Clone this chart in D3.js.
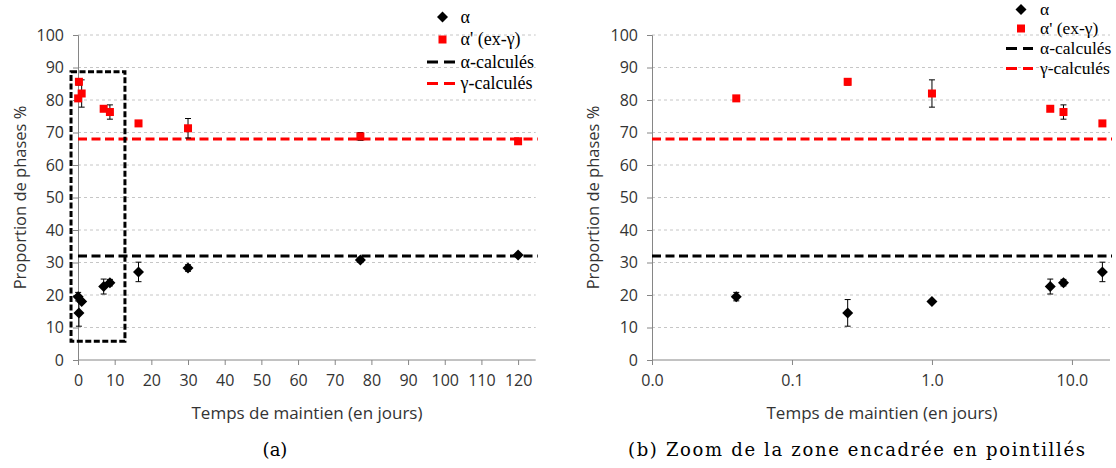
<!DOCTYPE html>
<html>
<head>
<meta charset="utf-8">
<script src="https://cdn.jsdelivr.net/npm/d3@7"></script>
<style>
  html, body { margin: 0; padding: 0; background: #fff; }
  svg { display: block; }
</style>
</head>
<body>
<svg id="chart" width="1116" height="468"></svg>
<script>
// ---- data ----
const times        = [0.04, 0.25, 1, 7, 8.7, 16.5, 30, 77, 120];
const alphaVals    = [19.5, 14.5, 18.0, 22.6, 23.8, 27.1, 28.3, 30.8, 32.3];
const alphaErr     = [1.3, 4.1, 0.5, 2.3, 1.0, 3.0, 1.0, 0.8, 0.5];
const alphaPVals   = [80.5, 85.6, 82.0, 77.3, 76.3, 72.8, 71.3, 68.8, 67.3];
const alphaPErr    = [0.5, 1.0, 4.2, 0.5, 2.2, 0.5, 3.0, 1.2, 0.3];
const alphaCalc    = 32;
const gammaCalc    = 68;
const yTicks       = [0,10,20,30,40,50,60,70,80,90,100];
const xTicksLin    = [0,10,20,30,40,50,60,70,80,90,100,110,120];
const xTicksLog    = [0.01, 0.1, 1, 10];
const xTickLogLbl  = ["0.0", "0.1", "1.0", "10.0"];
const zoomBox      = {x0: -1.9, x1: 12.8, y0: 5.8, y1: 88.7};
const legendLabels = ["α", "α' (ex-γ)", "α-calculés", "γ-calculés"];
const yTitle = "Proportion de phases %";
const xTitle = "Temps de maintien (en jours)";
const captions = ["(a)", "(b) Zoom de la zone encadrée en pointillés"];

const svg = d3.select("#chart");
svg.append("rect").attr("width",1116).attr("height",468).attr("fill","#fff");

const y = d3.scaleLinear().domain([0,100]).range([360,35]);
const RED = "#ff0000";
const AXIS = "#868686";
const TXT = "#333";
const sansFont = "'Open Sans', 'Liberation Sans', sans-serif";
const serifFont = "'Liberation Serif', 'DejaVu Serif', serif";
const capFont = "'DejaVu Serif', serif";

function panel(opt) {
  const g = svg.append("g");
  const x = opt.x;
  const [xl, xr] = x.range();
  // gridlines
  g.selectAll(".grid").data(yTicks.filter(d => d>0)).join("line")
    .attr("x1", xl).attr("x2", xr)
    .attr("y1", d => y(d)).attr("y2", d => y(d))
    .attr("stroke", "#c6c6c6").attr("stroke-width", 1)
    .attr("stroke-dasharray", "3,3");
  // y axis
  const yAx = g.append("g").attr("transform", `translate(${xl},0)`)
    .call(d3.axisLeft(y).tickValues(yTicks).tickSize(5).tickPadding(9));
  yAx.select(".domain").attr("stroke", AXIS);
  yAx.selectAll(".tick line").attr("stroke", AXIS);
  yAx.selectAll("text").attr("font-family", sansFont).attr("font-size", 16).attr("fill", TXT);
  // x axis
  const xAxis = d3.axisBottom(x).tickValues(opt.ticks).tickSize(5).tickPadding(10)
    .tickFormat(opt.fmt);
  const xAx = g.append("g").attr("transform", `translate(0,${y(0)})`).call(xAxis);
  xAx.select(".domain").attr("stroke", AXIS).attr("d", `M${xl},0H${xr}`);
  xAx.selectAll(".tick line").attr("stroke", AXIS);
  xAx.selectAll("text").attr("font-family", sansFont).attr("font-size", 16).attr("fill", TXT);
  // calc lines
  g.append("line").attr("x1", xl).attr("x2", xr + 2)
    .attr("y1", y(gammaCalc)).attr("y2", y(gammaCalc))
    .attr("stroke", RED).attr("stroke-width", 3).attr("stroke-dasharray", "9,4.5");
  g.append("line").attr("x1", xl).attr("x2", xr + 2)
    .attr("y1", y(alphaCalc)).attr("y2", y(alphaCalc))
    .attr("stroke", "#000").attr("stroke-width", 3).attr("stroke-dasharray", "9,4.5");
  // error bars
  function errBars(vals, errs) {
    const eg = g.append("g").attr("stroke", "#000").attr("stroke-width", 1);
    times.forEach((t, i) => {
      const cx = x(t), y1 = y(vals[i] + errs[i]), y2 = y(vals[i] - errs[i]);
      eg.append("line").attr("x1", cx).attr("x2", cx).attr("y1", y1).attr("y2", y2);
      eg.append("line").attr("x1", cx-3).attr("x2", cx+3).attr("y1", y1).attr("y2", y1);
      eg.append("line").attr("x1", cx-3).attr("x2", cx+3).attr("y1", y2).attr("y2", y2);
    });
  }
  errBars(alphaVals, alphaErr);
  errBars(alphaPVals, alphaPErr);
  // markers
  g.selectAll(".sq").data(times.map((t,i)=>[t, alphaPVals[i]])).join("rect")
    .attr("x", d => x(d[0]) - 4).attr("y", d => y(d[1]) - 4)
    .attr("width", 8).attr("height", 8).attr("fill", RED);
  g.selectAll(".dm").data(times.map((t,i)=>[t, alphaVals[i]])).join("path")
    .attr("transform", d => `translate(${x(d[0])},${y(d[1])})`)
    .attr("d", "M0,-5.5L5.5,0L0,5.5L-5.5,0Z").attr("fill", "#000");
  // titles
  g.append("text").attr("transform", `translate(${opt.yTitleX},${(y(0)+y(100))/2}) rotate(-90)`)
    .attr("text-anchor", "middle").attr("dy", "0.35em")
    .attr("font-family", sansFont).attr("font-size", 16.5).attr("fill", TXT).text(yTitle);
  g.append("text").attr("x", opt.xTitleX).attr("y", 419).attr("text-anchor", "middle")
    .attr("font-family", sansFont).attr("font-size", 17).attr("fill", TXT).text(xTitle);
  // legend
  const L = opt.legend;
  const lg = g.append("g").attr("font-family", serifFont).attr("font-size", L.fs).attr("fill", "#000");
  legendLabels.forEach((lab, i) => {
    const ry = L.rows[i];
    if (i === 0) lg.append("path").attr("transform", `translate(${L.mx},${ry})`)
      .attr("d", "M0,-5.5L5.5,0L0,5.5L-5.5,0Z").attr("fill", "#000");
    if (i === 1) lg.append("rect").attr("x", L.mx-4).attr("y", ry-4).attr("width", 8).attr("height", 8).attr("fill", RED);
    if (i >= 2) lg.append("line").attr("x1", L.lx0).attr("x2", L.lx1).attr("y1", ry).attr("y2", ry)
      .attr("stroke", i === 2 ? "#000" : RED).attr("stroke-width", 3).attr("stroke-dasharray", "11,6");
    lg.append("text").attr("x", L.tx).attr("y", ry).attr("dy", "0.33em").text(lab);
  });
  return g;
}

// Panel (a)
const xa = d3.scaleLinear().domain([0, 124.8]).range([78, 535.7]);
const ga = panel({x: xa, ticks: xTicksLin, fmt: d3.format("d"), yTitleX: 20, xTitleX: 307,
  legend: {rows: [17, 39.5, 62, 83.5], mx: 442.5, lx0: 427, lx1: 455, tx: 460.5, fs: 18}});
ga.append("rect")
  .attr("x", xa(zoomBox.x0)).attr("y", y(zoomBox.y1))
  .attr("width", xa(zoomBox.x1) - xa(zoomBox.x0)).attr("height", y(zoomBox.y0) - y(zoomBox.y1))
  .attr("fill", "none").attr("stroke", "#000").attr("stroke-width", 3).attr("stroke-dasharray", "6,2.5");

// Panel (b)
const xb = d3.scaleLog().domain([0.01, 18.7]).range([652, 1110]);
panel({x: xb, ticks: xTicksLog, fmt: (d, i) => xTickLogLbl[i], yTitleX: 593, xTitleX: 882,
  legend: {rows: [9.5, 28.5, 48.5, 68.5], mx: 1021, lx0: 1006, lx1: 1033, tx: 1040, fs: 17.5}});

// captions
svg.append("text").attr("x", 275).attr("y", 456).attr("text-anchor", "middle")
  .attr("font-family", capFont).attr("font-size", 18).attr("fill", "#000").text(captions[0]);
svg.append("text").attr("x", 628).attr("y", 456)
  .attr("textLength", 457).attr("lengthAdjust", "spacing")
  .attr("font-family", capFont).attr("font-size", 18).attr("fill", "#000").text(captions[1]);
</script>
</body>
</html>
